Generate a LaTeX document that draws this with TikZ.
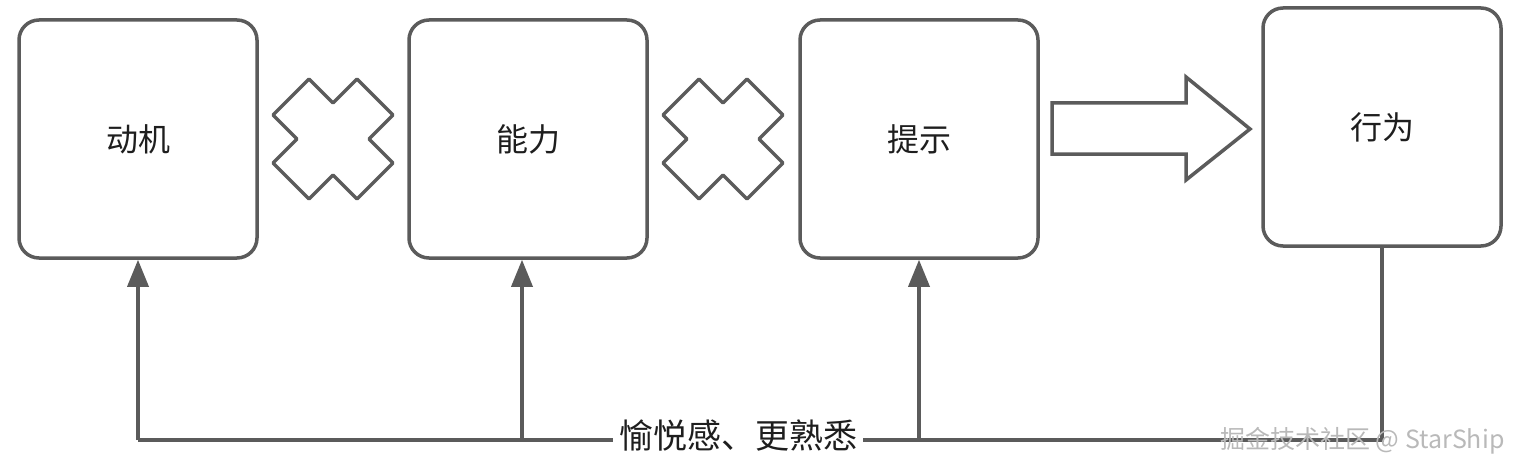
\documentclass[tikz,border=0pt]{standalone}
\usepackage{fontspec}
\setmainfont{Noto Sans CJK SC}
\usetikzlibrary{arrows.meta}
\definecolor{linegray}{HTML}{5B5B5B}
\definecolor{textgray}{HTML}{1E1E1E}
\tikzset{
	box/.style={draw=linegray,line width=3.5pt,rounded corners=20pt,fill=white,
		minimum width=238pt,minimum height=238pt,inner sep=0pt,
		text=textgray,font=\fontsize{32}{38}\selectfont},
	shapeline/.style={draw=linegray,line width=3.5pt},
	feedback/.style={draw=linegray,line width=3.5pt},
	feedarrow/.style={feedback,-{Triangle[length=27pt,width=21pt]}}
}
\begin{document}
\begin{tikzpicture}[x=1pt,y=-1pt]
		\useasboundingbox (0,0) rectangle (1525,476);
		
		\node[box] (motive) at (138,139) {动机};
		\node[box] (ability) at (528,139) {能力};
		\node[box] (prompt) at (919,139) {提示};
		\node[box] (behavior) at (1382,127) {行为};
		
		% multiplication signs
		\foreach \cx in {333,723}
			\draw[shapeline,line join=round] (\cx,103) -- ++(24,-24) -- ++(36,36) -- ++(-24,24)
				-- ++(24,24) -- ++(-36,36) -- ++(-24,-24) -- ++(-24,24) -- ++(-36,-36)
				-- ++(24,-24) -- ++(-24,-24) -- ++(36,-36) -- cycle;
		
		% block arrow
		\draw[shapeline] (1052,103) -- (1186,103) -- (1186,77) -- (1250,129)
			-- (1186,180) -- (1186,154) -- (1052,154) -- cycle;
		
		\coordinate (b1) at (138,440);
		\coordinate (b2) at (522,440);
		\coordinate (b3) at (919,440);
		\coordinate (b4) at (1382,440);
		
		\draw[feedback] (behavior.south) -- (b4) -- (b1);
		\draw[feedarrow] (b1) -- (motive.south);
		\draw[feedarrow] (b2) -- (ability.south -| b2);
		\draw[feedarrow] (b3) -- (prompt.south);
		
		\node[fill=white,text=textgray,font=\fontsize{34}{40}\selectfont,inner sep=6pt] (gain) at (738,436) {愉悦感、更熟悉};
		\node[text=gray!55,font=\fontsize{25}{30}\selectfont,anchor=east] (mark) at (1508,441) {掘金技术社区 @ StarShip};
	\end{tikzpicture}
\end{document}
